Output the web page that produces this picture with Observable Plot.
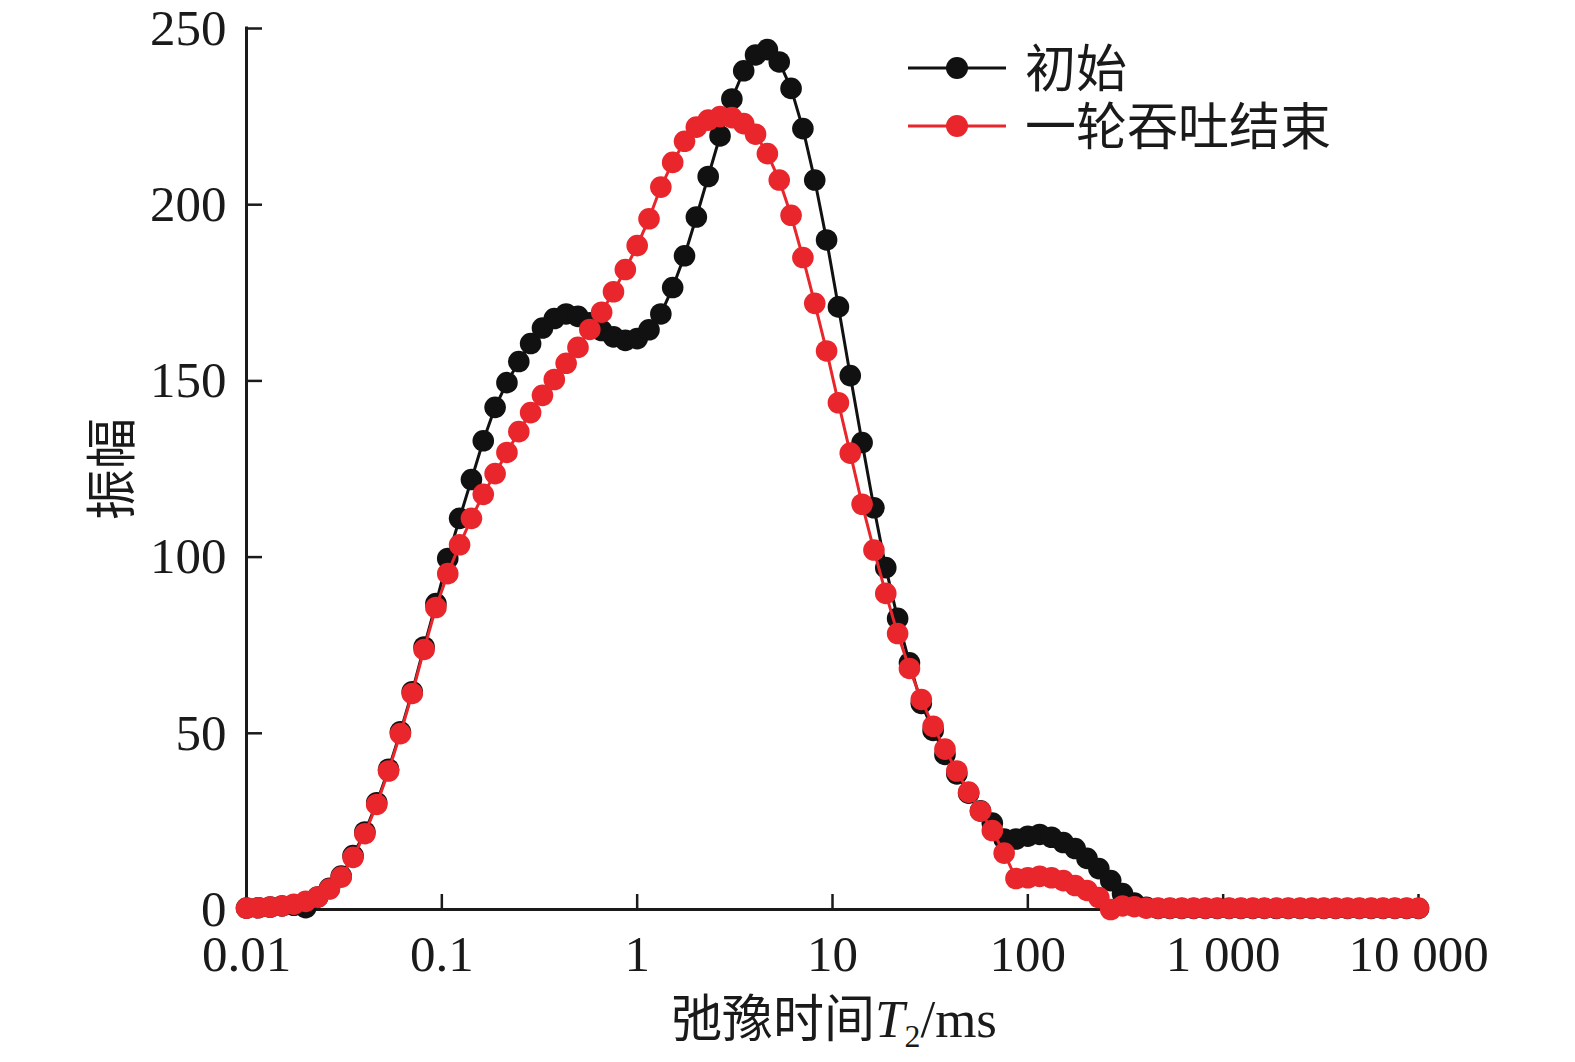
<!DOCTYPE html>
<html>
<head>
<meta charset="utf-8">
<script src="https://cdn.jsdelivr.net/npm/d3@7"></script>
<script src="https://cdn.jsdelivr.net/npm/@observablehq/plot@0.6"></script>
<style>
  body { margin: 0; background: #fff; }
  #wrap { position: relative; width: 1575px; height: 1062px; background: #fff; }
  .serif { font-family: "Times New Roman", "Liberation Serif", serif; }
  .cjk { font-family: "Noto Sans CJK SC", "Noto Sans", sans-serif; }
  .abs { position: absolute; white-space: nowrap; color: #1a1a1a; line-height: 1; }
</style>
</head>
<body>
<div id="wrap"></div>
<script>
// T2 relaxation time grid (ms)
const t2 = [
  0.01, 0.011498, 0.013219, 0.015199, 0.017475, 0.020092, 0.023101, 0.026561, 0.030539, 0.035112,
  0.040370, 0.046416, 0.053367, 0.061359, 0.070548, 0.081113, 0.093260, 0.10723, 0.12328, 0.14175,
  0.16298, 0.18738, 0.21544, 0.24771, 0.28480, 0.32745, 0.37649, 0.43288, 0.49770, 0.57224,
  0.65793, 0.75646, 0.86975, 1, 1.1498, 1.3219, 1.5199, 1.7475, 2.0092, 2.3101,
  2.6561, 3.0539, 3.5112, 4.0370, 4.6416, 5.3367, 6.1359, 7.0548, 8.1113, 9.3260,
  10.723, 12.328, 14.175, 16.298, 18.738, 21.544, 24.771, 28.480, 32.745, 37.649,
  43.288, 49.770, 57.224, 65.793, 75.646, 86.975, 100, 114.98, 132.19, 151.99,
  174.75, 200.92, 231.01, 265.61, 305.39, 351.12, 403.70, 464.16, 533.67, 613.59,
  705.48, 811.13, 932.60, 1072.3, 1232.8, 1417.5, 1629.8, 1873.8, 2154.4, 2477.1,
  2848.0, 3274.5, 3764.9, 4328.8, 4977.0, 5722.4, 6579.3, 7564.6, 8697.5, 10000
];

// 初始 (initial)
const initial = [
  0.4, 0.5, 0.7, 1.0, 1.2, 0.5, 3.5, 6.0, 9.5, 15.3,
  22.0, 30.3, 39.8, 50.4, 61.8, 74.5, 86.8, 99.6, 111.0, 122.0,
  133.0, 142.5, 149.5, 155.5, 160.6, 165.0, 167.7, 169.0, 168.3, 166.5,
  164.3, 162.5, 161.5, 162.0, 164.5, 169.0, 176.5, 185.5, 196.5, 208.0,
  219.5, 230.0, 238.0, 242.5, 244.0, 240.5, 233.0, 221.6, 207.0, 190.0,
  171.0, 151.5, 132.5, 114.0, 97.0, 82.6, 70.0, 58.5, 50.8, 44.0,
  38.5, 33.0, 28.0, 24.5, 20.0, 20.0, 20.8, 21.3, 20.5, 19.0,
  17.3, 14.5, 11.6, 8.2, 4.5, 1.8, 0.6, 0.3, 0.3, 0.3,
  0.3, 0.3, 0.3, 0.3, 0.3, 0.3, 0.3, 0.3, 0.3, 0.3,
  0.3, 0.3, 0.3, 0.3, 0.3, 0.3, 0.3, 0.3, 0.3, 0.3
];

// 一轮吞吐结束 (after one huff-puff cycle)
const afterCycle = [
  0.4, 0.5, 0.7, 1.0, 1.5, 2.3, 3.5, 5.8, 9.2, 14.8,
  21.5, 29.8, 39.3, 49.9, 61.3, 73.8, 85.7, 95.3, 103.5, 111.0,
  117.8, 123.7, 129.7, 135.6, 141.0, 145.9, 150.4, 155.0, 159.5, 164.6,
  169.5, 175.3, 181.6, 188.4, 196.0, 205.0, 212.0, 218.0, 222.0, 224.0,
  225.0, 224.7, 223.0, 220.0, 214.5, 207.0, 197.0, 185.0, 172.0, 158.5,
  143.8, 129.5, 115.0, 102.0, 89.7, 78.3, 68.4, 59.6, 52.0, 45.5,
  39.3, 33.3, 27.9, 22.4, 16.0, 8.8, 9.0, 9.4, 9.0, 8.2,
  6.8, 5.4, 3.4, 0.0, 1.0, 0.8, 0.4, 0.4, 0.4, 0.4,
  0.4, 0.4, 0.4, 0.4, 0.4, 0.4, 0.4, 0.4, 0.4, 0.4,
  0.4, 0.4, 0.4, 0.4, 0.4, 0.4, 0.4, 0.4, 0.4, 0.4
];

const xTicks = [0.01, 0.1, 1, 10, 100, 1000, 10000];
const xTickLabels = ["0.01", "0.1", "1", "10", "100", "1 000", "10 000"];
const yTicks = [0, 50, 100, 150, 200, 250];
const seriesNames = ["初始", "一轮吞吐结束"];
const seriesColors = ["#111111", "#e8262c"];
const xLabelCjk = "弛豫时间";
const xLabelVar = "T";
const xLabelSub = "2";
const xLabelUnit = "/ms";
const yLabel = "振幅";

const W = 1575, H = 1062, mL = 246, mR = 157, mT = 28, mB = 153;
const innerW = W - mL - mR, innerH = H - mT - mB;
const ink = "#1a1a1a";

const rows = (ys) => t2.map((x, i) => ({x, y: ys[i]}));
const s0 = rows(initial), s1 = rows(afterCycle);

const chart = Plot.plot({
  width: W, height: H,
  marginLeft: mL, marginRight: mR, marginTop: mT, marginBottom: mB,
  x: {type: "log", domain: [0.01, 10000]},
  y: {domain: [0, 250]},
  style: {fontFamily: '"Times New Roman", "Liberation Serif", serif', fontSize: "50px", color: ink, background: "#fff", overflow: "visible"},
  marks: [
    Plot.axisX(xTicks, {tickSize: 0, tickPadding: 25, fontSize: 51, label: null,
      tickFormat: (d) => xTickLabels[xTicks.indexOf(d)]}),
    Plot.axisY(yTicks, {tickSize: 0, tickPadding: 20, fontSize: 51, label: null,
      tickFormat: (d) => String(d)}),
    Plot.tickX(xTicks, {x: d => d, insetTop: innerH - 15, stroke: ink, strokeWidth: 2.5}),
    Plot.tickY(yTicks, {y: d => d, insetRight: innerW - 16, stroke: ink, strokeWidth: 2.5}),
    Plot.ruleY([0], {stroke: ink, strokeWidth: 3, strokeLinecap: "square"}),
    Plot.ruleX([0.01], {stroke: ink, strokeWidth: 3, strokeLinecap: "square"}),
    Plot.line(s0, {x: "x", y: "y", stroke: seriesColors[0], strokeWidth: 3}),
    Plot.dot(s0, {x: "x", y: "y", r: 10.8, fill: seriesColors[0], stroke: "none"}),
    Plot.line(s1, {x: "x", y: "y", stroke: seriesColors[1], strokeWidth: 3}),
    Plot.dot(s1, {x: "x", y: "y", r: 10.8, fill: seriesColors[1], stroke: "none"})
  ]
});

const wrap = document.getElementById("wrap");
wrap.appendChild(chart);

// x-axis title
const xl = document.createElement("div");
xl.className = "abs";
xl.style.left = "834px";
xl.style.top = "990px";
xl.style.fontSize = "51px";
xl.style.transform = "translateX(-50%)";
xl.innerHTML = `<span class="cjk">${xLabelCjk}</span><span class="serif" style="font-size:53px"><i>${xLabelVar}</i><span style="font-size:0.6em;position:relative;top:0.3em">${xLabelSub}</span>${xLabelUnit}</span>`;
wrap.appendChild(xl);

// y-axis title
const yl = document.createElement("div");
yl.className = "abs cjk";
yl.style.left = "108px";
yl.style.top = "469px";
yl.style.fontSize = "51px";
yl.style.transform = "translate(-50%, -50%) rotate(-90deg)";
yl.textContent = yLabel;
wrap.appendChild(yl);

// legend
const legendY = [68, 126];
seriesNames.forEach((name, i) => {
  const row = document.createElement("div");
  row.className = "abs";
  row.style.left = "906px";
  row.style.top = (legendY[i] - 26) + "px";
  row.style.height = "52px";
  row.style.display = "flex";
  row.style.alignItems = "center";
  row.innerHTML = `<svg width="102" height="52" style="display:block;overflow:visible"><line x1="2" x2="100" y1="26" y2="26" stroke="${seriesColors[i]}" stroke-width="3.2"/><circle cx="51" cy="26" r="11" fill="${seriesColors[i]}"/></svg><span class="cjk" style="display:inline-block;height:51px;line-height:51px;font-size:51px;margin-left:17px;position:relative;top:-3px">${name}</span>`;
  wrap.appendChild(row);
});
</script>
</body>
</html>
